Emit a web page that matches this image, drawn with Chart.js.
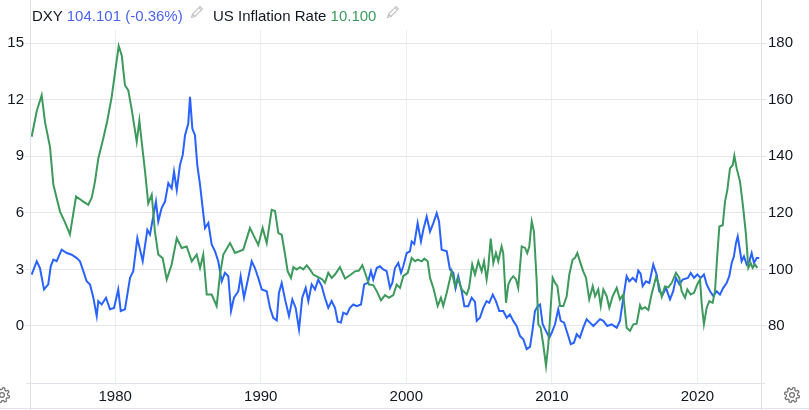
<!DOCTYPE html>
<html>
<head>
<meta charset="utf-8">
<script src="https://cdn.jsdelivr.net/npm/chart.js@4.4.1/dist/chart.umd.min.js"></script>
<style>
html,body{margin:0;padding:0;background:#fff;}
#wrap{position:relative;width:809px;height:410px;overflow:hidden;font-family:"Liberation Sans",Arial,sans-serif;}
#c{position:absolute;left:0;top:0;}
.hdr{position:absolute;top:7px;font-size:15px;line-height:18px;white-space:nowrap;color:#131722;}
.ico{position:absolute;}
</style>
</head>
<body>
<div id="wrap">
<canvas id="c" width="809" height="410"></canvas>
<div class="hdr" style="left:32px">DXY <span style="color:#4a63f5">104.101 (-0.36%)</span></div>
<svg class="ico" style="left:189px;top:4px" width="16" height="16" viewBox="0 0 16 16"><path d="M2.5 13.5 L3.5 10 L11 2.5 L13.5 5 L6 12.5 Z M9.8 3.7 L12.3 6.2 M3.5 10 L6 12.5" fill="none" stroke="#c4c4c4" stroke-width="1.1"/></svg>
<div class="hdr" style="left:213px">US Inflation Rate <span style="color:#3d9a5c">10.100</span></div>
<svg class="ico" style="left:385px;top:4px" width="16" height="16" viewBox="0 0 16 16"><path d="M2.5 13.5 L3.5 10 L11 2.5 L13.5 5 L6 12.5 Z M9.8 3.7 L12.3 6.2 M3.5 10 L6 12.5" fill="none" stroke="#c4c4c4" stroke-width="1.1"/></svg>
<svg id="g1" class="ico" style="left:-7px;top:386px" width="18" height="18" viewBox="0 0 18 18"></svg>
<svg id="g2" class="ico" style="left:783px;top:386px" width="18" height="18" viewBox="0 0 18 18"></svg>
</div>
<script>
// ---- data ----
const yearTicks = [1980, 1990, 2000, 2010, 2020];
const inflationTicks = [0, 3, 6, 9, 12, 15];
const dxyTicks = [80, 100, 120, 140, 160, 180];

const infYears = [1974.26,1974.61,1974.95,1975.18,1975.52,1975.75,1976.21,1976.55,1976.89,1977.31,
1977.81,1978.15,1978.39,1978.61,1978.84,1979.18,1979.46,1979.76,1980.05,1980.24,
1980.45,1980.67,1980.90,1981.13,1981.48,1981.66,1981.82,1982.05,1982.27,1982.51,
1982.73,1982.96,1983.26,1983.54,1983.88,1984.23,1984.57,1984.91,1985.26,1985.60,
1985.83,1986.05,1986.29,1986.63,1986.97,1987.20,1987.43,1987.89,1988.23,1988.80,
1989.26,1989.60,1989.83,1990.13,1990.41,1990.75,1990.98,1991.21,1991.44,1991.67,
1991.85,1992.08,1992.24,1992.47,1992.70,1992.92,1993.16,1993.38,1993.61,1993.95,
1994.23,1994.41,1994.64,1994.87,1995.10,1995.44,1995.79,1996.13,1996.48,1996.75,
1996.98,1997.21,1997.44,1997.73,1997.97,1998.26,1998.54,1998.81,1999.11,1999.34,
1999.57,1999.79,2000.10,2000.37,2000.60,2000.78,2001.06,2001.24,2001.47,2001.63,
2001.86,2002.16,2002.38,2002.54,2002.78,2003.12,2003.35,2003.53,2003.81,2004.15,
2004.31,2004.53,2004.72,2004.95,2005.18,2005.34,2005.52,2005.63,2005.80,2005.98,
2006.16,2006.32,2006.55,2006.66,2006.85,2007.01,2007.17,2007.35,2007.54,2007.69,
2007.93,2008.16,2008.31,2008.45,2008.62,2008.77,2008.96,2009.07,2009.23,2009.41,
2009.60,2009.76,2009.92,2010.06,2010.22,2010.38,2010.56,2010.79,2011.02,2011.20,
2011.43,2011.59,2011.75,2011.93,2012.16,2012.35,2012.57,2012.81,2012.97,2013.19,
2013.36,2013.54,2013.77,2013.95,2014.18,2014.46,2014.68,2014.91,2015.14,2015.37,
2015.60,2015.83,2016.06,2016.17,2016.40,2016.63,2016.86,2017.16,2017.31,2017.55,
2017.77,2018.00,2018.24,2018.53,2018.76,2018.92,2019.15,2019.31,2019.54,2019.77,
2019.99,2020.18,2020.30,2020.45,2020.64,2020.82,2021.05,2021.21,2021.37,2021.51,
2021.74,2021.90,2022.06,2022.24,2022.43,2022.54,2022.70,2022.93,2023.15,2023.34,
2023.50,2023.66,2023.80,2023.96,2024.12];
const infValues = [10.04,11.4,12.24,10.8,9.5,7.5,6.07,5.5,4.86,6.87,
6.6,6.43,6.8,7.66,8.89,9.95,10.9,12.15,13.8,14.85,
14.35,12.77,12.5,11.5,9.77,10.9,9.77,8.2,6.5,6.96,
5.0,3.79,3.6,2.47,3.26,4.66,4.14,4.22,3.43,3.79,
3.08,3.79,1.67,1.67,1.06,2.73,3.79,4.4,3.87,4.05,
5.2,4.66,4.3,5.2,4.4,6.16,6.1,4.93,4.84,3.79,
2.9,2.55,3.12,3.0,3.12,3.0,3.22,3.0,2.73,2.59,
2.47,2.29,2.82,2.55,2.73,3.12,2.52,2.69,2.9,2.94,
3.22,2.73,2.2,2.17,1.85,1.36,1.64,1.5,1.64,2.2,
2.02,2.64,2.82,3.61,3.43,3.52,3.43,3.57,3.43,2.55,
2.02,1.06,1.5,1.06,1.76,2.9,2.11,2.55,1.94,1.67,
2.02,3.26,2.73,3.43,2.9,3.43,2.47,3.08,4.63,3.34,
3.87,3.43,4.22,3.87,1.23,2.2,2.47,2.64,2.47,2.02,
4.22,4.14,3.87,4.22,5.55,5.02,2.38,0.09,-0.09,-0.97,
-2.11,-0.97,0.97,2.55,2.29,2.11,1.06,1.06,1.58,2.73,
3.52,3.61,3.87,3.43,2.9,2.55,1.41,2.11,1.58,1.94,
1.06,1.94,1.58,0.97,1.58,2.02,1.41,1.67,-0.09,-0.26,
0.09,0.12,1.1,0.9,1.0,0.85,1.7,2.6,2.3,1.55,
2.1,2.05,2.29,2.82,2.55,1.85,1.5,1.94,1.67,1.76,
2.2,2.47,1.15,0.09,0.97,1.32,1.23,1.85,3.79,5.28,
5.34,6.6,7.22,8.36,8.54,9.03,8.36,7.66,6.25,4.84,
3.08,3.34,3.08,3.26,3.08];

const dxyYears = [1974.26,1974.61,1974.83,1975.11,1975.40,1975.57,1975.75,1975.98,1976.32,1976.67,
1977.01,1977.36,1977.58,1977.81,1978.04,1978.27,1978.50,1978.73,1978.84,1979.07,
1979.37,1979.64,1979.92,1980.21,1980.38,1980.67,1981.02,1981.24,1981.52,1981.89,
1982.21,1982.39,1982.80,1982.96,1983.19,1983.42,1983.65,1983.88,1984.04,1984.23,
1984.45,1984.64,1984.80,1985.02,1985.14,1985.30,1985.48,1985.64,1985.83,1986.01,
1986.17,1986.40,1986.63,1986.86,1987.08,1987.32,1987.54,1987.77,1987.96,1988.16,
1988.46,1988.62,1988.85,1989.14,1989.38,1989.60,1989.83,1990.07,1990.41,1990.64,
1990.86,1991.10,1991.25,1991.44,1991.67,1991.94,1992.17,1992.40,1992.63,1992.85,
1993.09,1993.27,1993.50,1993.73,1993.95,1994.19,1994.41,1994.64,1994.87,1995.10,
1995.29,1995.51,1995.67,1995.91,1996.13,1996.36,1996.59,1996.89,1997.11,1997.35,
1997.57,1997.73,1997.97,1998.19,1998.42,1998.65,1998.88,1999.04,1999.22,1999.45,
1999.64,1999.79,2000.03,2000.25,2000.37,2000.55,2000.78,2001.01,2001.17,2001.40,
2001.63,2001.86,2002.09,2002.25,2002.43,2002.78,2003.00,2003.23,2003.39,2003.57,
2003.81,2003.99,2004.26,2004.49,2004.72,2004.84,2005.06,2005.29,2005.52,2005.70,
2005.94,2006.16,2006.39,2006.66,2006.90,2007.12,2007.35,2007.58,2007.81,2008.04,
2008.27,2008.50,2008.68,2008.84,2009.03,2009.19,2009.37,2009.60,2009.83,2009.99,
2010.22,2010.44,2010.61,2010.84,2011.06,2011.30,2011.52,2011.71,2011.93,2012.16,
2012.39,2012.62,2012.85,2013.08,2013.31,2013.54,2013.81,2014.11,2014.46,2014.68,
2014.91,2015.14,2015.32,2015.56,2015.78,2015.94,2016.10,2016.24,2016.47,2016.70,
2016.97,2017.20,2017.38,2017.62,2017.84,2018.12,2018.34,2018.53,2018.76,2018.99,
2019.35,2019.54,2019.77,2019.99,2020.23,2020.45,2020.64,2020.87,2021.09,2021.33,
2021.55,2021.78,2022.01,2022.19,2022.36,2022.51,2022.65,2022.77,2022.88,2023.04,
2023.20,2023.39,2023.57,2023.73,2023.89,2024.07,2024.25];
const dxyValues = [98.2,102.9,100.5,92.9,94.7,101.1,103.5,102.9,107.0,105.8,
105.2,104.0,102.9,99.4,95.8,94.7,90.0,83.5,88.8,87.6,
90.0,85.9,86.4,92.9,85.3,85.9,97.0,99.4,111.1,102.9,
114.0,112.3,124.0,117.0,121.7,124.0,130.5,128.7,134.6,128.1,
136.9,140.5,147.5,151.6,161.0,149.8,147.5,136.9,129.9,121.7,
114.6,116.4,108.8,106.4,102.9,95.8,98.8,97.6,85.3,90.0,
92.3,97.6,90.0,97.0,102.9,100.5,97.0,92.9,92.3,86.4,
82.9,82.0,91.7,95.2,89.4,83.5,89.4,86.4,78.8,90.0,
93.5,88.8,94.7,92.9,96.4,94.1,90.0,86.4,88.8,86.4,
81.5,81.2,84.7,84.1,86.4,87.6,87.0,87.6,94.7,95.2,
99.4,96.4,100.5,101.1,100.0,99.4,93.5,95.2,100.5,102.3,
98.8,101.1,105.8,106.4,109.9,109.0,116.4,109.9,114.0,118.7,
113.4,116.4,119.9,117.0,107.0,106.4,100.0,98.8,93.5,97.6,
92.3,87.0,87.0,90.0,88.5,81.8,82.9,86.4,88.8,88.2,
91.1,88.8,85.3,85.3,82.9,84.1,81.8,80.0,76.5,75.3,
71.8,72.6,78.8,85.3,87.0,87.6,80.6,78.2,75.9,77.6,
80.6,85.9,81.8,81.2,77.6,73.6,74.1,77.1,75.9,79.4,
82.4,81.2,80.0,81.2,82.4,81.8,80.0,80.6,79.4,81.8,
90.0,97.6,95.8,97.0,95.8,99.6,98.5,94.1,95.8,95.2,
101.7,98.2,92.3,91.1,93.5,89.4,92.3,97.0,94.7,96.4,
97.0,98.8,97.0,98.2,97.0,98.2,94.7,92.3,90.6,92.3,
91.1,93.5,95.2,97.6,102.3,104.6,109.3,111.7,108.2,102.9,
104.6,101.7,102.9,105.8,102.3,104.0,104.0];

// ---- decorative gear icons ----
function gearPath(cx, cy, R, r, n) {
  let d = '';
  for (let i = 0; i < n; i++) {
    const a0 = (i / n) * 2 * Math.PI;
    const step = 2 * Math.PI / n;
    const pts = [
      [r, a0], [R, a0 + step * 0.18], [R, a0 + step * 0.5], [r, a0 + step * 0.68]
    ];
    pts.forEach((p, j) => {
      const x = cx + p[0] * Math.cos(p[1]), y = cy + p[0] * Math.sin(p[1]);
      d += (i === 0 && j === 0 ? 'M' : 'L') + x.toFixed(2) + ' ' + y.toFixed(2) + ' ';
    });
  }
  return d + 'Z';
}
['g1', 'g2'].forEach(id => {
  const svg = document.getElementById(id);
  svg.innerHTML = '<path d="' + gearPath(9, 9, 7.6, 5.6, 8) + '" fill="none" stroke="#6f6f6f" stroke-width="1.2" stroke-linejoin="round"/>' +
    '<circle cx="9" cy="9" r="2.4" fill="none" stroke="#6f6f6f" stroke-width="1.2"/>';
});

// ---- chart ----
const FONT = '"Liberation Sans", Arial, sans-serif';
const frame = {
  id: 'frame',
  beforeDatasetsDraw(chart) {
    const { ctx, chartArea: a } = chart;
    ctx.save();
    ctx.strokeStyle = '#e0e3eb';
    ctx.lineWidth = 1;
    ctx.beginPath();
    ctx.moveTo(a.left - 0.5, 0); ctx.lineTo(a.left - 0.5, 410);
    ctx.moveTo(a.right - 0.5, 0); ctx.lineTo(a.right - 0.5, 410);
    ctx.moveTo(a.left - 5, a.bottom + 0.5); ctx.lineTo(a.right + 3, a.bottom + 0.5);
    ctx.moveTo(0, 408.5); ctx.lineTo(809, 408.5);
    ctx.stroke();
    ctx.restore();
  }
};

new Chart(document.getElementById('c'), {
  type: 'line',
  data: {
    datasets: [
      {
        label: 'US Inflation Rate',
        data: infYears.map((x, i) => ({ x: x, y: infValues[i] })),
        yAxisID: 'y',
        borderColor: '#3d9a5c',
        borderWidth: 2,
        pointRadius: 0,
        tension: 0
      },
      {
        label: 'DXY',
        data: dxyYears.map((x, i) => ({ x: x, y: dxyValues[i] })),
        yAxisID: 'y1',
        borderColor: '#2962ff',
        borderWidth: 2,
        pointRadius: 0,
        tension: 0
      }
    ]
  },
  options: {
    responsive: false,
    animation: false,
    events: [],
    devicePixelRatio: 1,
    layout: { padding: { top: 30, left: 0, right: 0, bottom: 0 } },
    plugins: { legend: { display: false }, tooltip: { enabled: false } },
    scales: {
      x: {
        type: 'linear',
        min: 1974.215,
        max: 2024.44,
        afterBuildTicks: s => { s.ticks = yearTicks.map(v => ({ value: v })); },
        afterFit: s => { s.height = 27; },
        ticks: { font: { size: 15, family: FONT }, color: '#131722', padding: 5, maxRotation: 0, autoSkip: false, callback: v => String(v) },
        grid: { color: '#e9eef3', drawTicks: false },
        border: { display: false }
      },
      y: {
        position: 'left',
        min: -3.024,
        max: 15.70,
        afterBuildTicks: s => { s.ticks = inflationTicks.map(v => ({ value: v })); },
        afterFit: s => { s.width = 31; },
        ticks: { font: { size: 15, family: FONT }, color: '#131722', padding: 1, callback: v => String(v) },
        grid: { color: '#e6e6e6', tickLength: 6 },
        border: { display: false }
      },
      y1: {
        position: 'right',
        min: 59.84,
        max: 184.67,
        afterBuildTicks: s => { s.ticks = dxyTicks.map(v => ({ value: v })); },
        afterFit: s => { s.width = 47; },
        ticks: { font: { size: 15, family: FONT }, color: '#131722', padding: 2, callback: v => String(v) },
        grid: { drawOnChartArea: false, tickLength: 4, color: '#e0e3eb' },
        border: { display: false }
      }
    }
  },
  plugins: [frame]
});
</script>
</body>
</html>
